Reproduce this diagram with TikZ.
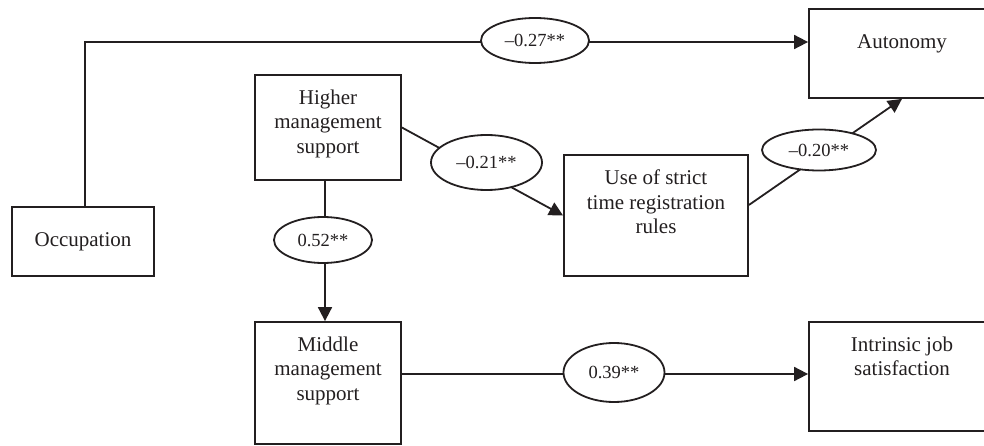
\documentclass[tikz,border=0pt]{standalone}
\usepackage{fontspec}
\setmainfont{Liberation Serif}
\usetikzlibrary{arrows.meta,shapes.geometric}
\definecolor{ink}{HTML}{231F20}
\begin{document}
\begin{tikzpicture}[x=1pt,y=-1pt,
  box/.style={rectangle, draw=ink, line width=1.8pt, inner sep=0pt},
  lbl/.style={anchor=north, inner sep=0pt, align=center, text=ink,
              font=\fontsize{21}{24.3}\selectfont},
  coef/.style={ellipse, draw=ink, fill=white, line width=1.8pt, inner sep=0pt,
               text=ink, font=\fontsize{18.5}{22}\selectfont},
  link/.style={draw=ink, line width=1.8pt, -{Triangle[length=14pt,width=14pt]}}]
  \useasboundingbox (0,0) rectangle (984,446);
  \clip (0,0) rectangle (984,446);

  % variables
  \node[box, minimum width=142, minimum height=69, font=\fontsize{21}{24.3}\selectfont, text=ink]
    (occ) at (83,241.5) {Occupation};
  \node[box, minimum width=146, minimum height=105] (higher) at (328,127.5) {};
  \node[lbl] (higherT) at ([yshift=-15.7pt]higher.north) {Higher\\management\\support};
  \node[box, minimum width=184, minimum height=121] (use) at (656,215.5) {};
  \node[lbl] (useT) at ([yshift=-15.7pt]use.north) {Use of strict\\time registration\\rules};
  \node[box, minimum width=146, minimum height=122] (middle) at (328,383) {};
  \node[lbl] (middleT) at ([yshift=-15.7pt]middle.north) {Middle\\management\\support};
  \node[box, minimum width=186, minimum height=89] (auto) at (902,53.5) {};
  \node[lbl] (autoT) at ([yshift=-26.8pt]auto.north) {Autonomy};
  \node[box, minimum width=186, minimum height=109] (intr) at (902,376.5) {};
  \node[lbl] (intrT) at ([yshift=-15.7pt]intr.north) {Intrinsic job\\satisfaction};

  % rows of the horizontal paths
  \coordinate (toprow) at (0,42);
  \coordinate (midrow) at (0,374);

  % paths
  \draw[link] ([xshift=2pt]occ.north) |- (auto.west |- toprow);
  \draw[link] (higher.east) -- (use.west);
  \draw[link] ([yshift=10.5pt]use.east) -- (auto.south);
  \draw[link] ([xshift=-3pt]higher.south) -- ([xshift=-3pt]middle.north);
  \draw[link] (middle.east |- midrow) -- (intr.west |- midrow);

  % path coefficients
  \node[coef, minimum width=108, minimum height=45] (e27) at (535,40.5) {\textendash0.27**};
  \node[coef, minimum width=111, minimum height=55] (e21) at (486.5,162.5) {\textendash0.21**};
  \node[coef, minimum width=114, minimum height=41] (e20) at (819,150) {\textendash0.20**};
  \node[coef, minimum width=98, minimum height=46] (e52) at (323,240) {0.52**};
  \node[coef, minimum width=101, minimum height=59] (e39) at (614,372.5) {0.39**};
\end{tikzpicture}
\end{document}
